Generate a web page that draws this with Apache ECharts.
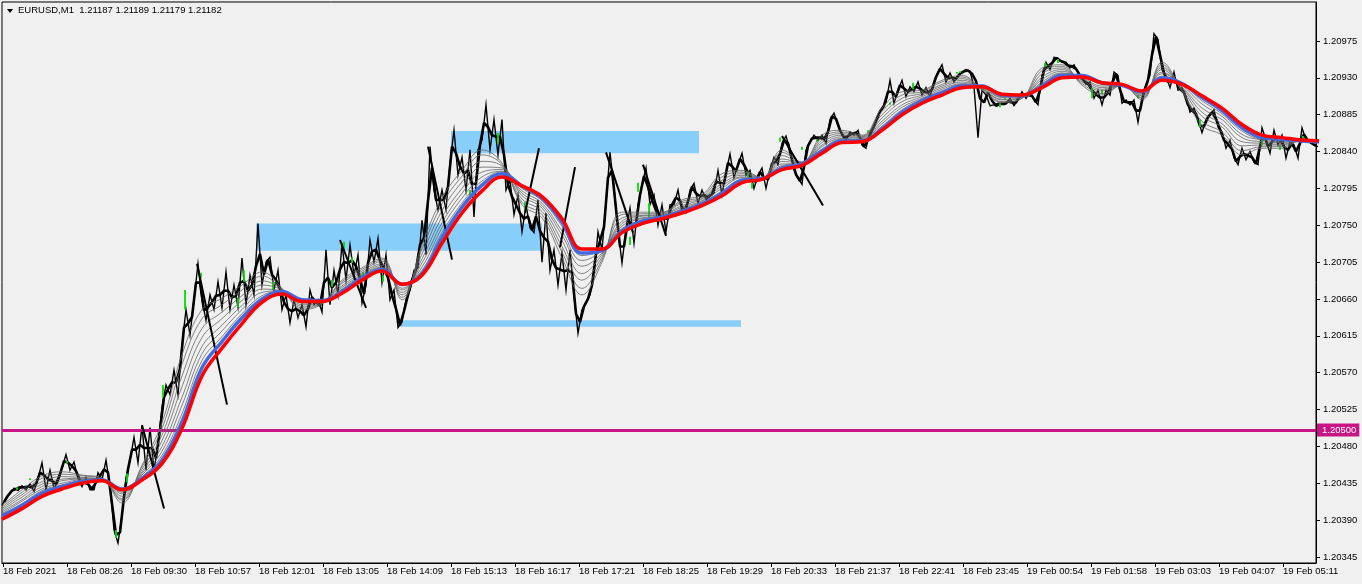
<!DOCTYPE html>
<html><head><meta charset="utf-8">
<style>html,body{margin:0;padding:0;background:#f0f0f0}#c{width:1362px;height:584px}</style>
<script src="https://cdn.jsdelivr.net/npm/echarts@6/dist/echarts.min.js"></script>
</head><body><div id="c"></div>
<script>
// All prices are in points above 1.20000 (1 point = 0.00001); bars are minute indexes.
const headerText = 'EURUSD,M1  1.21187 1.21189 1.21179 1.21182';
const xTickLabels = ['18 Feb 2021','18 Feb 08:26','18 Feb 09:30','18 Feb 10:57','18 Feb 12:01','18 Feb 13:05','18 Feb 14:09','18 Feb 15:13','18 Feb 16:17','18 Feb 17:21','18 Feb 18:25','18 Feb 19:29','18 Feb 20:33','18 Feb 21:37','18 Feb 22:41','18 Feb 23:45','19 Feb 00:54','19 Feb 01:58','19 Feb 03:03','19 Feb 04:07','19 Feb 05:11'];
const xTickBars = [1,65,129,193,257,321,385,449,513,577,641,705,769,833,897,961,1025,1089,1153,1217,1281];
const yTicks = [345,390,435,480,525,570,615,660,705,750,795,840,885,930,975];
const hline = 500;
const priceStep = 4;
const price = [
408,417,422,429,426,432,427,434,425,441,
460,427,451,429,437,454,470,451,461,441,
431,442,427,427,448,439,463,432,378,362,
396,441,463,491,460,505,451,503,451,482,
528,555,543,573,543,604,647,616,659,703,
659,634,665,647,681,649,693,647,677,650,
710,653,689,665,752,677,705,711,671,695,
647,665,631,659,637,653,626,671,653,659,
644,720,653,695,665,728,683,726,689,714,
655,677,732,705,734,680,714,659,671,625,
632,659,671,695,698,756,714,846,793,769,
793,769,826,866,811,833,793,842,760,842,
854,897,842,879,836,879,793,805,763,787,
742,775,747,741,781,705,765,695,720,677,
716,671,720,665,618,647,655,665,689,742,
720,777,839,795,744,704,744,771,728,775,
799,820,775,787,750,775,742,775,775,793,
766,765,793,801,777,793,781,787,789,817,
787,815,837,808,824,838,811,817,795,811,
820,795,817,833,824,850,859,842,817,808,
800,842,852,860,854,860,850,879,887,872,
860,854,864,860,866,848,844,864,869,885,
893,900,927,899,915,927,907,919,913,925,
909,918,907,925,937,946,925,936,925,933,
937,940,938,919,857,915,909,896,897,899,
899,898,905,896,903,913,905,913,903,897,
932,949,940,955,954,949,949,942,946,937,
930,922,925,905,915,897,915,909,937,933,
899,903,897,903,876,905,922,933,984,977,
940,932,918,937,915,918,907,888,893,879,
863,879,885,891,870,864,844,854,832,824,
844,830,840,827,824,869,854,838,866,848,
860,832,852,848,832,869,854,852,848,846];
const priceBody = [
412,420,426,428,430,430,431,430,434,448,
445,440,438,434,446,462,460,456,450,438,
436,434,428,436,444,452,448,410,372,375,
418,452,476,476,482,478,478,478,466,500,
540,550,558,558,575,625,630,638,680,680,
646,650,656,664,665,670,670,662,664,680,
682,670,677,700,715,690,708,690,683,672,
656,648,645,648,645,640,648,662,656,652,
680,686,674,680,696,705,704,707,700,685,
666,704,718,720,707,697,686,665,648,628,
645,665,683,696,726,735,780,820,781,781,
781,797,846,838,822,813,817,800,801,848,
875,870,860,858,858,836,800,785,775,765,
758,761,744,761,743,735,730,708,698,696,
694,695,692,642,632,651,660,677,715,731,
748,808,817,770,724,724,757,750,752,787,
810,797,781,768,762,758,758,775,784,780,
765,779,797,789,785,787,784,788,803,802,
801,826,822,816,831,824,814,806,803,815,
808,806,825,828,837,854,850,830,812,804,
821,847,856,857,857,855,864,883,880,866,
857,859,862,863,857,846,854,866,877,889,
896,913,913,907,921,917,913,916,919,917,
913,912,916,931,941,935,930,930,929,935,
938,939,935,926,905,900,912,902,896,898,
898,901,900,900,908,909,909,908,900,915,
940,944,948,954,951,949,945,944,941,933,
926,923,915,910,906,906,912,923,935,916,
901,900,900,890,890,913,927,958,980,958,
936,925,927,926,916,912,897,890,886,871,
871,882,888,880,867,854,849,843,828,834,
837,835,833,825,846,861,846,852,857,854,
846,842,850,840,850,861,853,850,847];
const maStep = 20;
const maRed = [391,404,419,428,435,438,427,439,459,502,566,600,630,656,666,657,657,667,683,694,678,689,728,765,792,809,798,785,758,721,721,741,752,758,765,774,786,802,806,818,823,838,851,852,866,885,899,909,918,919,910,909,918,930,931,924,922,914,927,922,908,893,873,860,857,854,853];
const maBlue = [395,408,423,431,437,439,428,441,463,510,576,608,637,660,669,659,658,669,686,696,678,691,735,772,799,813,798,783,754,716,719,743,755,760,767,776,789,805,807,820,825,841,853,853,868,888,902,912,920,920,909,908,920,933,933,924,921,913,930,923,906,890,869,857,855,853,852];
const maGrey1 = [408,427,444,449,445,441,411,457,509,592,647,661,677,693,673,647,654,683,698,710,659,726,783,817,842,826,775,759,710,665,705,766,766,766,781,787,813,817,808,842,827,860,866,860,893,913,915,927,933,915,900,905,942,946,921,909,921,903,949,913,872,860,836,844,844,854,852];
const maGrey2 = [406,424,441,446,444,441,414,455,502,580,636,653,671,688,672,649,655,681,696,708,662,721,776,810,836,824,778,763,717,673,708,763,764,765,779,785,809,815,808,839,827,857,864,859,889,909,913,925,931,916,901,905,939,944,923,911,921,905,946,914,877,864,841,846,846,854,852];
const maGrey3 = [404,421,437,443,442,440,416,452,494,566,624,644,664,682,672,651,655,679,694,706,665,715,768,803,828,822,782,767,724,683,711,759,762,764,777,783,805,813,808,835,826,854,862,858,885,905,911,922,929,917,903,906,935,942,925,914,921,906,943,916,883,870,847,848,848,854,852];
const maGrey4 = [402,418,434,440,441,440,419,449,487,553,613,636,658,677,671,653,656,676,692,703,668,709,760,795,821,820,786,771,731,691,714,755,761,763,774,782,801,811,808,831,826,851,860,857,881,901,909,920,927,917,904,906,931,940,927,916,921,908,940,918,888,874,852,850,849,854,852];
const maGrey5 = [400,415,431,438,440,440,422,447,480,540,602,628,652,672,670,655,656,674,690,701,671,704,753,789,815,818,789,774,738,700,716,752,759,762,772,780,798,809,807,828,826,848,858,856,877,897,907,918,925,918,906,907,928,938,929,918,921,909,937,919,893,879,857,852,851,853,852];
const maGrey6 = [398,413,428,435,439,439,424,445,474,530,593,621,647,668,670,656,657,672,689,699,673,699,747,783,809,816,792,777,743,707,719,749,758,761,770,779,795,808,807,825,825,846,856,855,874,894,905,916,923,919,907,907,925,936,930,920,921,911,935,921,898,883,861,854,852,853,852];
const maGrey7 = [397,410,426,433,438,439,426,443,469,520,585,614,642,664,669,658,658,671,687,698,676,695,741,777,804,815,795,780,749,713,721,746,756,761,769,777,792,806,807,823,825,843,855,854,871,891,904,914,922,919,908,908,923,935,932,922,921,912,932,922,902,886,865,855,854,853,852];
const zoneFrom = [449,254,396], zoneTo = [697,540,739], zoneHigh = [865,752,634], zoneLow = [838,719,626];
const trendBar0 = [195,140,338,426,523,558,604,641,780], trendPrice0 = [703,506,732,846,765,723,839,824,859];
const trendBar1 = [225,162,364,450,537,573,631,664,821], trendPrice1 = [531,404,649,708,844,821,741,737,774];
const greenBar = [199,242,271,330,183,161,125,236,65,15,28,114,342,350,361,381,468,496,523,636,647,628,778,800,815,866,888,911,958,955,998,988,1003,1015,746,750,1043,1056,1090,1100,1136,1198,1260,1278,1301];
const greenHigh = [692,695,681,683,671,555,447,662,462,430,441,378,730,711,693,689,793,863,778,802,777,736,857,846,855,866,900,924,938,937,899,896,905,911,815,802,948,953,918,915,909,879,854,848,859];
const greenLow = [686,681,671,675,647,540,436,650,459,427,439,368,720,704,686,681,783,850,766,791,760,726,852,842,852,863,897,916,936,935,894,895,903,909,809,795,943,948,905,910,905,870,848,842,855];

const pts = (arr, step, off) => arr.map((v,i)=>[i*step+(off||0),v]);
const thin = (name,arr)=>({name,type:'line',data:pts(arr,maStep),smooth:0.4,showSymbol:false,silent:true,z:5,lineStyle:{color:'#666',width:0.8}});
const trend = [];
trendBar0.forEach((b,i)=>{trend.push([b,trendPrice0[i]],[trendBar1[i],trendPrice1[i]],[b,null]);});
const green = [];
greenBar.forEach((b,i)=>{green.push([b,greenHigh[i]],[b,greenLow[i]],[b,null]);});
const font='"Liberation Sans", sans-serif';
const chart = echarts.init(document.getElementById('c'),null,{renderer:'canvas'});
chart.setOption({
  animation:false, backgroundColor:'#f0f0f0',
  grid:{left:2,top:2,width:1314,height:561,show:true,borderColor:'#000',borderWidth:1,backgroundColor:'transparent'},
  title:{text:headerText,left:18,top:5,padding:0,textStyle:{fontFamily:font,fontSize:9.5,fontWeight:'normal',color:'#000'}},
  graphic:[{type:'polygon',shape:{points:[[7,9],[13,9],[10,13]]},style:{fill:'#000'}}],
  xAxis:{type:'value',min:0,max:1314,splitLine:{show:false},
    axisLine:{show:true,onZero:false,lineStyle:{color:'#000'}},
    axisTick:{length:4,lineStyle:{color:'#000'},customValues:xTickBars},
    axisLabel:{customValues:xTickBars,align:'left',margin:3,color:'#000',fontFamily:font,fontSize:9.5,
      formatter:v=>xTickLabels[xTickBars.indexOf(v)]||''}},
  yAxis:{type:'value',position:'right',min:337.6,max:1022.6,splitLine:{show:false},
    axisLine:{show:true,onZero:false,lineStyle:{color:'#000'}},
    axisTick:{length:4,lineStyle:{color:'#000'},customValues:yTicks},
    axisLabel:{customValues:yTicks,margin:7,color:'#000',fontFamily:font,fontSize:9.5,
      formatter:v=>(1.2+v/1e5).toFixed(5)}},
  series:[
    {name:'zones',type:'line',data:[],z:1,silent:true,
      markArea:{silent:true,itemStyle:{color:'#87CEFA',opacity:1},
        data:zoneFrom.map((b,i)=>[{xAxis:b,yAxis:zoneHigh[i]},{xAxis:zoneTo[i],yAxis:zoneLow[i]}])}},
    {name:'price',type:'line',data:pts(price,priceStep),showSymbol:false,silent:true,z:3,lineStyle:{color:'#000',width:1.4,join:'miter'}},
    {name:'price body',type:'line',data:pts(priceBody,priceStep,2),showSymbol:false,silent:true,z:3,lineStyle:{color:'#000',width:2.6}},
    {name:'bars up',type:'line',data:green,showSymbol:false,silent:true,z:4,lineStyle:{color:'#00e000',width:1.8}},
    {name:'trend',type:'line',data:trend,showSymbol:false,silent:true,z:6,lineStyle:{color:'#000',width:2}},
    thin('g1',maGrey1),thin('g2',maGrey2),thin('g3',maGrey3),thin('g4',maGrey4),thin('g5',maGrey5),thin('g6',maGrey6),thin('g7',maGrey7),
    {name:'level',type:'line',data:[],z:7,silent:true,
      markLine:{silent:true,symbol:'none',animation:false,lineStyle:{color:'#C71585',width:3,type:'solid'},
        label:{position:'end',distance:1,formatter:()=>(1.2+hline/1e5).toFixed(5),color:'#fff',backgroundColor:'#C71585',padding:[2,3,1,5],fontFamily:font,fontSize:9.5},
        data:[{yAxis:hline}]}},
    {name:'ma blue',type:'line',data:pts(maBlue,maStep),smooth:0.4,showSymbol:false,silent:true,z:8,lineStyle:{color:'#4169E1',width:3.5}},
    {name:'ma red',type:'line',data:pts(maRed,maStep),smooth:0.4,showSymbol:false,silent:true,z:9,lineStyle:{color:'#FF0000',width:3.5}}
  ]
});
</script></body></html>
